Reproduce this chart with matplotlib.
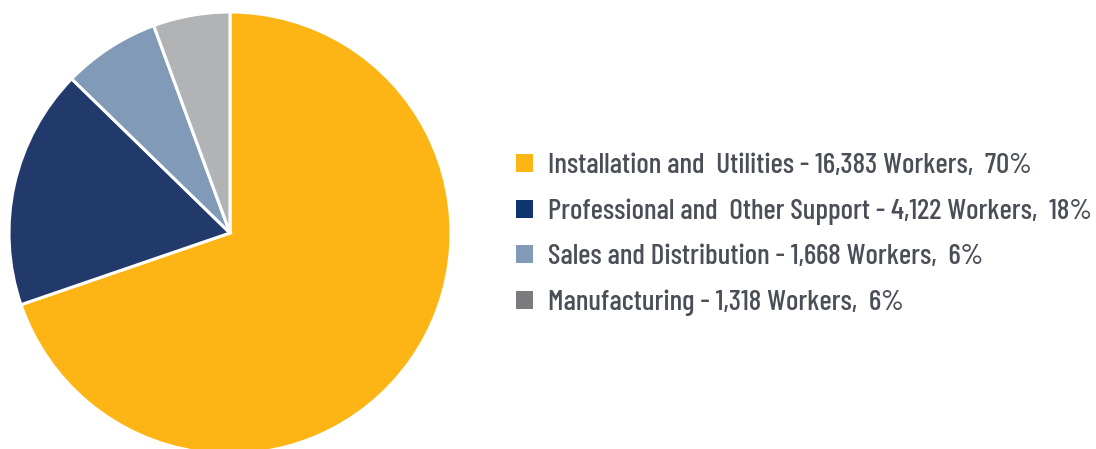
import matplotlib

matplotlib.use("Agg")
import matplotlib.pyplot as plt
from matplotlib import font_manager
from matplotlib.patches import Patch

# workforce by segment
segments = ["Installation and  Utilities", "Professional and  Other Support",
            "Sales and Distribution", "Manufacturing"]
workers = [16383, 4122, 1668, 1318]
pct_labels = ["70%", "18%", "6%", "6%"]

wedge_colors = ["#FDB515", "#21396B", "#809AB7", "#B2B3B5"]
key_colors = ["#FDB515", "#0F3570", "#809AB7", "#797B7E"]
text_color = "#4A4E57"

# narrow face for the key, with a smaller fallback if none is around
installed = {f.name for f in font_manager.fontManager.ttflist}
narrow = [n for n in ("Barlow Condensed", "Roboto Condensed", "Liberation Sans Narrow")
          if n in installed]
if narrow:
    key_font = dict(family=[narrow[0], "DejaVu Sans"], weight="medium", size=21)
else:
    key_font = dict(family=["DejaVu Sans"], size=13)

W, H = 1096, 449
fig = plt.figure(figsize=(W / 100, H / 100), dpi=100)

cx, cy, r = 230, 233, 221
ax = fig.add_axes([(cx - r) / W, (H - cy - r) / H, 2 * r / W, 2 * r / H])
ax.pie(workers, colors=wedge_colors, startangle=90, counterclock=False,
       wedgeprops=dict(edgecolor="white", linewidth=2.2))
ax.set_xlim(-1, 1)
ax.set_ylim(-1, 1)
ax.set_aspect("equal")
ax.axis("off")

handles = [Patch(facecolor=c, edgecolor="none") for c in key_colors]
labels = [f"{s} - {w:,} Workers,  {p}" for s, w, p in zip(segments, workers, pct_labels)]
leg = fig.legend(handles, labels, loc="upper left", bbox_to_anchor=(490 / W, 1 - 127 / H),
                 frameon=False, handlelength=0.58, handleheight=0.58, handletextpad=0.5,
                 labelspacing=0.66, prop=key_font)
for t in leg.get_texts():
    t.set_color(text_color)

fig.savefig("out.png", dpi=100)
